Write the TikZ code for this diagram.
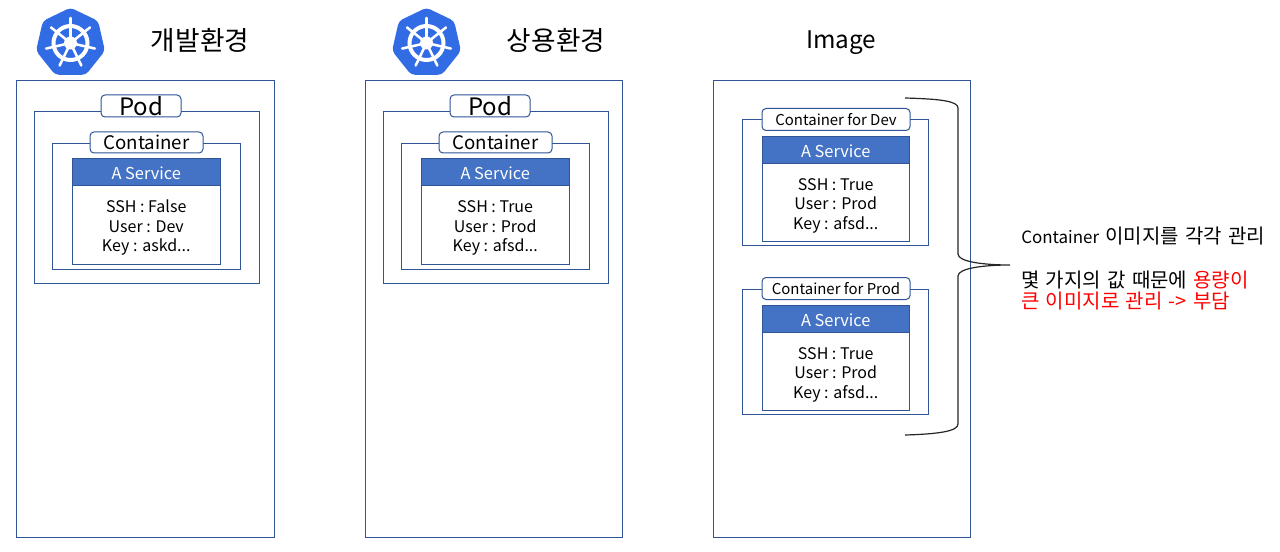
\documentclass[tikz,border=0pt]{standalone}
\usepackage{fontspec}
\setmainfont{Noto Sans CJK KR}[Scale=1]
\usetikzlibrary{shapes.geometric}

\definecolor{framecol}{HTML}{2F5597}
\definecolor{headcol}{HTML}{4472C4}
\definecolor{logocol}{HTML}{326CE5}

\newcommand{\latinsize}{\fontsize{12.7}{15}\selectfont}
\newcommand{\notefont}{\fontsize{15}{18}\selectfont\spaceskip=4.7pt\relax}

\tikzset{
  frame/.style 2 args={draw=framecol, line width=.75pt, fill=white, inner sep=0pt, outer sep=0pt,
    anchor=north west, minimum width=#1*.75pt, minimum height=#2*.75pt},
  tag/.style 2 args={frame={#1}{#2}, rounded corners=3pt, anchor=center},
  head/.style={frame={147.5}{27}, fill=headcol, text=white, font=\fontsize{12.3}{15}\selectfont,
    execute at begin node=\rule{0pt}{11pt}},
  body/.style={frame={147.5}{78}, align=center, font=\fontsize{12}{14.6}\selectfont},
  title/.style={font=\fontsize{20}{24}\selectfont},
  note/.style={anchor=west, inner sep=0pt, font=\notefont},
  logo/.style={regular polygon, regular polygon sides=7, fill=logocol, rounded corners=3pt,
    minimum size=53pt, inner sep=0pt},
  spoke/.style={draw=white, line width=1.9pt, line cap=round}
}
\newcommand{\lowered}{\rule{0pt}{14pt}}

\begin{document}
\begin{tikzpicture}[x=.75pt, y=-.75pt]
\useasboundingbox (0,0) rectangle (1280,552);

% outer panels
\foreach \x [count=\i] in {16.5,365,713}
  \node [frame={257.5}{457}] (panel-\i) at (\x,80.5) {};

% logos
\foreach \x/\y [count=\i] in {70.5/43,426.5/43} {
  \node [logo] (logo-\i) at (\x,\y) {};
  \draw [white, line width=3pt] (logo-\i.center) circle (17);
  \fill [white] (logo-\i.center) circle (6.5);
  \fill [logocol] (logo-\i.center) circle (2.5);
  \foreach \a in {0,...,6}
    \draw [spoke] (logo-\i.center) -- ++({-90+\a*360/7}:25);
}

\node [title] (title-1) at (200,40.5) {개발환경};
\node [title] (title-2) at (556,40.5) {상용환경};
\node [title, font=\fontsize{18.2}{22}\selectfont] (title-3) at (841,42.5) {Image};

% pods
\foreach \x/\ssh/\user/\key [count=\i] in {34/False/Dev/askd,383/True/Prod/afsd} {
  \node [frame={225.5}{171}] (pod-\i) at (\x,112) {};
  \node [tag={80}{22}, font=\fontsize{18}{20}\selectfont] (podtag-\i) at (\x+107,106) {Pod};
  \node [frame={188}{126}] (box-\i) at (\x+18.5,143.5) {};
  \node [tag={113}{21}, font=\fontsize{14}{16}\selectfont] (boxtag-\i) at (\x+112.5,142.5) {Container};
  \node [body] (body-\i) at (\x+38.5,186) {\lowered SSH : \ssh\\User : \user\\Key : \key...};
  \node [head] (head-\i) at (\x+38.5,159) {A Service};
}

% images
\foreach \y/\name [count=\i] in {120/Dev,289/Prod} {
  \node [frame={186.5}{125}] (image-\i) at (742,\y) {};
  \node [tag={148}{22}, font=\fontsize{11.2}{14}\selectfont] (imagetag-\i) at (836,\y-.5) {Container for \name};
  \node [body] (imgbody-\i) at (762,\y+43.5) {\lowered SSH : True\\User : Prod\\Key : afsd...};
  \node [head] (imghead-\i) at (762,\y+16.5) {A Service};
}

% brace
\coordinate (brace-top) at (905,98);
\coordinate (brace-tip) at (1010,265);
\coordinate (brace-end) at (905,435);
\draw [black!85, line width=.9pt] (brace-top) .. controls (940,99) and (958,101) .. (958,108)
  -- (958,254) .. controls (958,262) and (985,265) .. (brace-tip)
  .. controls (985,265) and (958,268) .. (958,276)
  -- (958,424) .. controls (958,431) and (940,434) .. (brace-end);

\node [note] (note-1) at (1021,236) {{\latinsize Container} 이미지를 각각 관리};
\node [note] (note-2) at (1021,280) {몇 가지의 값 때문에 \textcolor{red}{용량이}};
\node [note, text=red] (note-3) at (1021,301) {큰 이미지로 관리 -> 부담};
\end{tikzpicture}
\end{document}
